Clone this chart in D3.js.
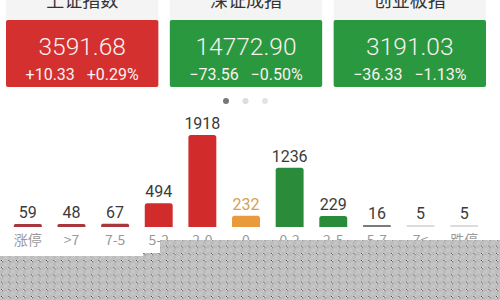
<!DOCTYPE html>
<html>
<head>
<meta charset="utf-8">
<script src="https://cdn.jsdelivr.net/npm/d3@7"></script>
<style>
  html, body { margin: 0; padding: 0; background: #fff; }
  svg { display: block; }
</style>
</head>
<body>
<svg id="chart" width="500" height="300"></svg>
<script>
// Index cards
const indexNames = ["上证指数", "深证成指", "创业板指"];
const indexValues = ["3591.68", "14772.90", "3191.03"];
const indexChanges = ["+10.33", "−73.56", "−36.33"];
const indexPercents = ["+0.29%", "−0.50%", "−1.13%"];
const indexUp = [true, false, false];

// Rise/fall distribution
const categories = ["涨停", ">7", "7-5", "5-2", "2-0", "0", "0-2", "2-5", "5-7", "7<", "跌停"];
const counts = [59, 48, 67, 494, 1918, 232, 1236, 229, 16, 5, 5];

const svg = d3.select("#chart");
const cjk = "'Noto Sans CJK SC', 'Noto Sans', sans-serif";
const num = "Roboto, 'Noto Sans', sans-serif";

// ---- cards ----
const cardX = d3.scaleBand().domain(d3.range(indexNames.length)).range([6, 486]).paddingInner(0.07);
const cards = svg.selectAll("g.card").data(indexNames).join("g")
  .attr("class", "card")
  .attr("transform", (d, i) => `translate(${cardX(i)},0)`);
const cw = cardX.bandwidth();

cards.append("rect")
  .attr("x", 0).attr("y", -6).attr("width", cw).attr("height", 30)
  .attr("fill", "#f3f4f3");
cards.append("text")
  .attr("x", cw / 2).attr("y", 7)
  .attr("text-anchor", "middle")
  .attr("font-family", cjk).attr("font-size", 18).attr("fill", "#333")
  .text(d => d);
cards.append("rect")
  .attr("x", 0).attr("y", 20).attr("width", cw).attr("height", 67)
  .attr("rx", 2)
  .attr("fill", (d, i) => indexUp[i] ? "#d3302f" : "#2a983f");
cards.append("text")
  .attr("x", cw / 2).attr("y", 55)
  .attr("text-anchor", "middle")
  .attr("font-family", num).attr("font-size", 24.5).attr("font-weight", 300).attr("fill", "#fbf1f1")
  .text((d, i) => indexValues[i]);
cards.append("text")
  .attr("x", cw / 2).attr("y", 80)
  .attr("text-anchor", "middle")
  .attr("font-family", num).attr("font-size", 16).attr("fill", "#fbf1f1")
  .attr("xml:space", "preserve")
  .text((d, i) => indexChanges[i] + "   " + indexPercents[i]);

// page indicator dots
const dotColors = ["#777", "#ddd", "#e4e4e4"];
svg.selectAll("circle.dot").data(dotColors).join("circle")
  .attr("class", "dot")
  .attr("cx", (d, i) => 226 + i * 19.5).attr("cy", 101).attr("r", 3)
  .attr("fill", d => d);

// ---- distribution bars ----
const x = d3.scaleBand().domain(categories).range([6, 486]).paddingInner(0.36).paddingOuter(0.18);
const baseY = 227;
const y = d3.scaleLinear().domain([0, d3.max(counts)]).range([baseY, 135]);

function barColor(i, v) {
  if (i === 5) return "#e89a3c";
  if (i < 5) return v < 100 ? "#a8363f" : "#d22b2b";
  if (v < 10) return "#dcdcdc";
  if (v < 100) return "#7a7a7a";
  return "#2a8c3b";
}
function barTop(v, i) {
  const minH = i > 5 && v < 100 ? 2 : 3;
  return Math.min(y(v), baseY - minH);
}

const bars = svg.selectAll("g.bar").data(counts).join("g").attr("class", "bar");
bars.append("path")
  .attr("fill", (d, i) => barColor(i, d))
  .attr("d", (d, i) => {
    const x0 = x(categories[i]), w = x.bandwidth();
    const t = barTop(d, i), h = baseY - t;
    const r = Math.min(2.5, h / 2);
    return `M${x0},${baseY}V${t + r}Q${x0},${t} ${x0 + r},${t}H${x0 + w - r}Q${x0 + w},${t} ${x0 + w},${t + r}V${baseY}Z`;
  });
bars.append("text")
  .attr("x", (d, i) => x(categories[i]) + x.bandwidth() / 2)
  .attr("y", (d, i) => barTop(d, i) - 6)
  .attr("text-anchor", "middle")
  .attr("font-family", num).attr("font-size", 16)
  .attr("fill", (d, i) => i === 5 ? "#d6a14f" : "#3b3b3b")
  .text(d => d);

// category axis labels
const axis = d3.axisBottom(x).tickSize(0).tickPadding(0);
const gAxis = svg.append("g").attr("transform", `translate(0,${baseY})`).call(axis);
gAxis.select(".domain").remove();
gAxis.selectAll("text")
  .attr("y", 18).attr("dy", 0)
  .attr("font-family", cjk).attr("font-size", 14).attr("fill", "#9a9a9a");

// dotted grey overlay across the lower edge
const defs = svg.append("defs");
const pat = defs.append("pattern")
  .attr("id", "grain").attr("patternUnits", "userSpaceOnUse")
  .attr("width", 7.5).attr("height", 7.2);
pat.append("rect").attr("width", 7.5).attr("height", 7.2).attr("fill", "#bcbcbc");
pat.append("rect").attr("x", 0).attr("y", 0).attr("width", 3.7).attr("height", 3.6).attr("fill", "#c6c6c6");
pat.append("rect").attr("x", 3.7).attr("y", 3.6).attr("width", 3.8).attr("height", 3.6).attr("fill", "#c6c6c6");
pat.append("rect").attr("x", 1).attr("y", 1).attr("width", 1).attr("height", 1).attr("fill", "#000");
pat.append("rect").attr("x", 2).attr("y", 1).attr("width", 1).attr("height", 1).attr("fill", "#fff");
pat.append("rect").attr("x", 1).attr("y", 2).attr("width", 1).attr("height", 1).attr("fill", "#fff");
pat.append("rect").attr("x", 2).attr("y", 2).attr("width", 1).attr("height", 1).attr("fill", "#333");

const overlay = [
  { x0: 0, y0: 256, x1: 500 },
  { x0: 143, y0: 253, x1: 500 },
  { x0: 160, y0: 240, x1: 500 }
];
svg.selectAll("rect.grain").data(overlay).join("rect")
  .attr("class", "grain")
  .attr("x", d => d.x0).attr("y", d => d.y0)
  .attr("width", d => d.x1 - d.x0).attr("height", d => 300 - d.y0)
  .attr("fill", "url(#grain)");
</script>
</body>
</html>
